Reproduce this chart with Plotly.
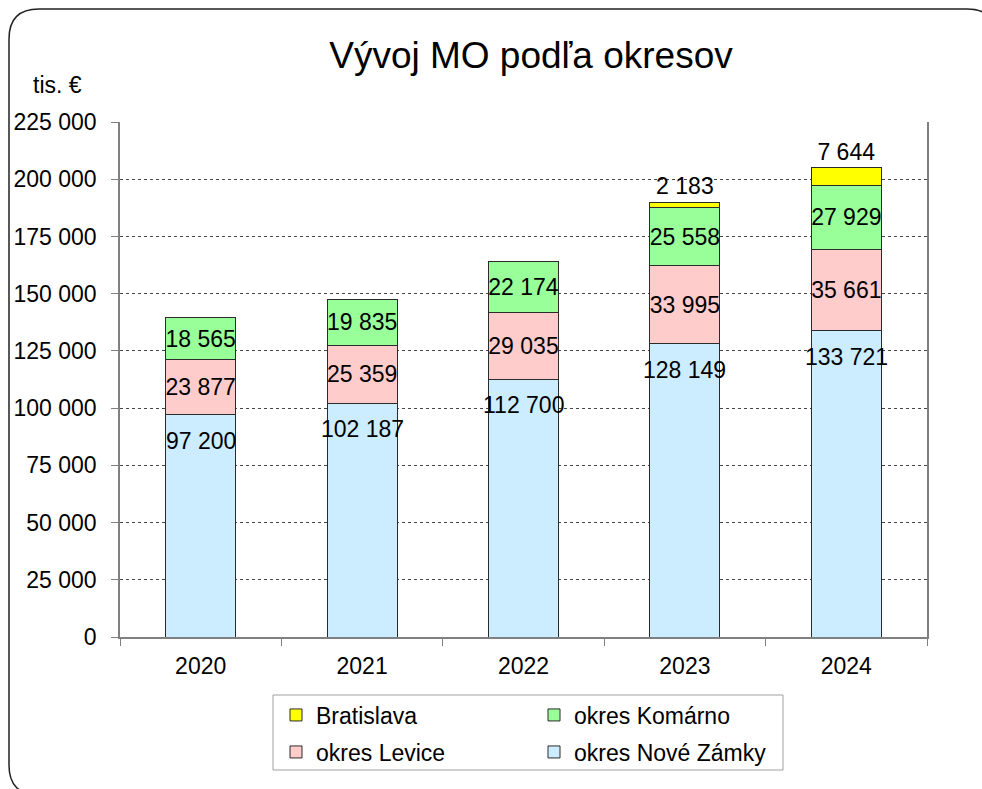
import plotly.graph_objects as go

# ---- data ----
years = ["2020", "2021", "2022", "2023", "2024"]
nove_zamky = [97200, 102187, 112700, 128149, 133721]
levice = [23877, 25359, 29035, 33995, 35661]
komarno = [18565, 19835, 22174, 25558, 27929]
bratislava = [None, None, None, 2183, 7644]
y_ticks = [0, 25000, 50000, 75000, 100000, 125000, 150000, 175000, 200000, 225000]

title_text = "Vývoj MO podľa okresov"
unit_text = "tis. €"

# ---- layout geometry (pixels) ----
W, H = 982, 789
L, R, T, B = 120, 927, 122, 637  # plot area in pixels
FONT = "Liberation Sans, Arial, sans-serif"


def px_x(x):
    return (x - L) / (R - L)


def px_y(y):
    return (B - y) / (B - T)


def fmt(v):
    return f"{v:,}".replace(",", " ")


fig = go.Figure()

bar_line = dict(color="#2b2b2b", width=1)
common = dict(constraintext="none", textangle=0,
              textfont=dict(family=FONT, size=23, color="black"))

fig.add_trace(go.Bar(x=years, y=nove_zamky, name="okres Nové Zámky",
                     marker=dict(color="#CCECFF", line=bar_line),
                     legend="legend2", textposition="none"))
fig.add_trace(go.Bar(x=years, y=levice, name="okres Levice",
                     marker=dict(color="#FFCCCC", line=bar_line),
                     legend="legend2", texttemplate="%{y:,.0f}",
                     textposition="inside", insidetextanchor="middle", **common))
fig.add_trace(go.Bar(x=years, y=komarno, name="okres Komárno",
                     marker=dict(color="#99FF99", line=bar_line),
                     legend="legend", texttemplate="%{y:,.0f}",
                     textposition="inside", insidetextanchor="middle", **common))
fig.add_trace(go.Bar(x=years, y=bratislava, name="Bratislava",
                     marker=dict(color="#FFFF00", line=bar_line),
                     legend="legend", texttemplate="%{y:,.0f}",
                     textposition="outside", cliponaxis=False, **common))

# labels for Nové Zámky near the top of the bar (x given as category index)
annotations = []
for i, v in enumerate(nove_zamky):
    annotations.append(dict(x=i, y=v, xref="x", yref="y", text=fmt(v),
                            showarrow=False, yshift=-26,
                            xanchor="center", yanchor="middle",
                            font=dict(family=FONT, size=23, color="black")))

annotations.append(dict(x=px_x(57), y=px_y(85), xref="paper", yref="paper",
                        text=unit_text, showarrow=False,
                        xanchor="center", yanchor="middle",
                        font=dict(family=FONT, size=23, color="black")))

# rounded outer frame
fx0, fy0, fx1, fy1, r = 9, 9, 997, 795, 30


def P(x, y):
    return f"{px_x(x):.5f},{px_y(y):.5f}"


frame_path = (f"M {P(fx0 + r, fy0)} L {P(fx1 - r, fy0)} Q {P(fx1, fy0)} {P(fx1, fy0 + r)} "
              f"L {P(fx1, fy1 - r)} Q {P(fx1, fy1)} {P(fx1 - r, fy1)} "
              f"L {P(fx0 + r, fy1)} Q {P(fx0, fy1)} {P(fx0, fy1 - r)} "
              f"L {P(fx0, fy0 + r)} Q {P(fx0, fy0)} {P(fx0 + r, fy0)} Z")

shapes = [
    dict(type="path", path=frame_path, xref="paper", yref="paper",
         line=dict(color="#222222", width=1.5), layer="below"),
    dict(type="rect", xref="paper", yref="paper",
         x0=px_x(273), x1=px_x(783), y0=px_y(695), y1=px_y(770),
         line=dict(color="#A0A0A0", width=1), fillcolor="white", layer="below"),
]

legend_common = dict(orientation="h", traceorder="reversed", entrywidth=213,
                     entrywidthmode="pixels", bgcolor="rgba(0,0,0,0)",
                     borderwidth=0, xanchor="left", yanchor="middle",
                     font=dict(family=FONT, size=23, color="black"))

fig.update_layout(
    width=W, height=H,
    margin=dict(l=L, r=W - R, t=T, b=H - B, pad=0),
    paper_bgcolor="white", plot_bgcolor="white",
    barmode="stack", bargap=0.566,
    separators=", ",
    font=dict(family=FONT, size=23, color="black"),
    title=dict(text=title_text, x=531 / W, xref="container", xanchor="center",
               y=1 - 55 / H, yref="container", yanchor="middle",
               font=dict(family=FONT, size=37, color="black")),
    legend=dict(x=px_x(276), y=px_y(715), **legend_common),
    legend2=dict(x=px_x(276), y=px_y(752), **legend_common),
    annotations=annotations,
    shapes=shapes,
    xaxis=dict(type="category", range=[-0.5, len(years) - 0.5],
               showline=True, linecolor="#808080", linewidth=1.5,
               ticks="outside", tickson="boundaries", ticklen=7, tickcolor="#808080",
               showgrid=False, ticklabelstandoff=8, tickangle=0,
               tickfont=dict(family=FONT, size=23, color="black")),
    yaxis=dict(range=[0, 225000], tickvals=y_ticks, tickformat=",d",
               showline=True, mirror=True, linecolor="#808080", linewidth=1.5,
               ticks="outside", ticklen=7, tickcolor="#808080",
               showgrid=True, gridcolor="#444444", griddash="dot", gridwidth=1,
               zeroline=False, ticklabelstandoff=10,
               tickfont=dict(family=FONT, size=23, color="black")),
)

fig.write_html("out.html", config={"displayModeBar": False},
               post_script="document.body.style.margin='0';document.body.style.overflow='hidden';")
